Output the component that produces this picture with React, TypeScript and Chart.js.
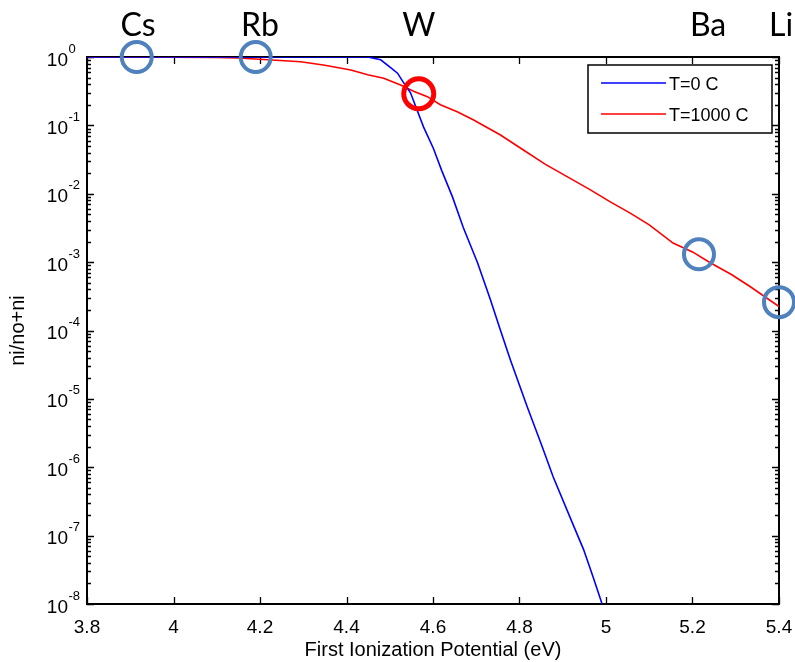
import { useEffect, useRef } from "react";
import { Chart, registerables } from "chart.js";

Chart.register(...registerables);

// ---- data ----
const seriesNames = ["T=0 C", "T=1000 C"];

const t0X = [3.8, 4.0, 4.2, 4.4, 4.449, 4.479, 4.502, 4.518, 4.53, 4.548, 4.578, 4.601, 4.62, 4.645, 4.67, 4.703, 4.733, 4.755, 4.779, 4.818, 4.85, 4.878, 4.922, 4.948, 4.97, 4.991, 5.0];
const t0Y = [1, 1, 1, 1, 1, 0.91, 0.7, 0.58, 0.44, 0.3, 0.095, 0.046, 0.022, 0.009, 0.0032, 9.8e-4, 2.8e-4, 1.05e-4, 3.7e-5, 7.6e-6, 2.2e-6, 7.2e-7, 1.55e-7, 6.3e-8, 2.5e-8, 1.0e-8, 7e-9];

const t1000X = [3.8, 4.0, 4.1, 4.15, 4.218, 4.294, 4.35, 4.41, 4.449, 4.486, 4.525, 4.555, 4.587, 4.617, 4.656, 4.694, 4.756, 4.809, 4.86, 4.91, 4.963, 5.01, 5.056, 5.1, 5.155, 5.2, 5.241, 5.29, 5.333, 5.4];
const t1000Y = [1, 0.993, 0.982, 0.966, 0.912, 0.851, 0.759, 0.646, 0.55, 0.49, 0.389, 0.316, 0.263, 0.2, 0.158, 0.12, 0.0724, 0.0437, 0.0269, 0.0178, 0.0115, 0.0076, 0.0052, 0.0035, 0.0019, 0.00141, 9.8e-4, 6.6e-4, 4.4e-4, 2.24e-4];

const elementNames = ["Cs", "Rb", "W", "Ba", "Li"];
const elementX = [3.915, 4.19, 4.567, 5.215, 5.4];
const elementY = [1, 1, 0.29, 1.3e-3, 2.6e-4];
const elementLabelX = [3.918, 4.2, 4.567, 5.236, 5.405];
const highlightedElement = "W";

const xTicks = [3.8, 4.0, 4.2, 4.4, 4.6, 4.8, 5.0, 5.2, 5.4];
const xTickLabels = ["3.8", "4", "4.2", "4.4", "4.6", "4.8", "5", "5.2", "5.4"];
const yTickExponents = [0, -1, -2, -3, -4, -5, -6, -7, -8];

const xTitle = "First Ionization Potential (eV)";
const yTitle = "ni/no+ni";

const FONT = "'Liberation Sans', Arial, sans-serif";
const BLUE_MARK = "#4F81BD";
const RED_MARK = "#FF0000";

const matlabPlugin = {
  id: "matlabAxes",
  beforeDatasetsDraw(chart: any) {
    const { ctx, chartArea: a, scales } = chart;
    const x = scales.x;
    const y = scales.y;
    ctx.save();
    ctx.strokeStyle = "#000";
    ctx.lineWidth = 1.3;
    ctx.beginPath();
    for (const v of xTicks) {
      const px = Math.round(x.getPixelForValue(v)) + 0.5;
      ctx.moveTo(px, a.bottom);
      ctx.lineTo(px, a.bottom - 7);
      ctx.moveTo(px, a.top);
      ctx.lineTo(px, a.top + 7);
    }
    for (const e of yTickExponents) {
      const py = Math.round(y.getPixelForValue(Math.pow(10, e))) + 0.5;
      ctx.moveTo(a.left, py);
      ctx.lineTo(a.left + 7, py);
      ctx.moveTo(a.right, py);
      ctx.lineTo(a.right - 7, py);
      if (e > yTickExponents[yTickExponents.length - 1]) {
        for (let k = 2; k <= 9; k++) {
          const pm = Math.round(y.getPixelForValue(k * Math.pow(10, e - 1))) + 0.5;
          ctx.moveTo(a.left, pm);
          ctx.lineTo(a.left + 4, pm);
          ctx.moveTo(a.right, pm);
          ctx.lineTo(a.right - 4, pm);
        }
      }
    }
    ctx.stroke();
    ctx.lineWidth = 2;
    ctx.strokeRect(a.left, a.top, a.right - a.left, a.bottom - a.top);

    // y tick labels with superscripts
    ctx.fillStyle = "#000";
    ctx.textBaseline = "alphabetic";
    for (const e of yTickExponents) {
      const py = y.getPixelForValue(Math.pow(10, e));
      ctx.font = `19px ${FONT}`;
      ctx.textAlign = "right";
      ctx.fillText("10", a.left - 19, py + 8.5);
      ctx.font = `13px ${FONT}`;
      ctx.textAlign = "left";
      ctx.fillText(String(e), a.left - 18.5, py - 4.5);
    }
    ctx.restore();
  },
  afterDraw(chart: any) {
    const { ctx, scales } = chart;
    const x = scales.x;
    ctx.save();
    // element labels
    ctx.fillStyle = "#000";
    ctx.font = `32px Lato, 'Open Sans', sans-serif`;
    ctx.textAlign = "center";
    ctx.textBaseline = "alphabetic";
    elementNames.forEach((n, i) => {
      ctx.fillText(n, x.getPixelForValue(elementLabelX[i]), 36);
    });
    // legend
    const lx = 588, ly = 65, lw = 184, lh = 68;
    ctx.fillStyle = "#fff";
    ctx.fillRect(lx, ly, lw, lh);
    ctx.strokeStyle = "#000";
    ctx.lineWidth = 1.5;
    ctx.strokeRect(lx, ly, lw, lh);
    const colors = ["#0000FF", "#FF0000"];
    const rows = [83, 114];
    seriesNames.forEach((n, i) => {
      ctx.strokeStyle = colors[i];
      ctx.lineWidth = 1.5;
      ctx.beginPath();
      ctx.moveTo(601, rows[i]);
      ctx.lineTo(666, rows[i]);
      ctx.stroke();
      ctx.fillStyle = "#000";
      ctx.font = `18px ${FONT}`;
      ctx.textAlign = "left";
      ctx.textBaseline = "middle";
      ctx.fillText(n, 669, rows[i] + 2);
    });
    ctx.restore();
  },
};

export default function App() {
  const ref = useRef<HTMLCanvasElement | null>(null);
  useEffect(() => {
    if (!ref.current) return;
    const markColors = elementNames.map((n) => (n === highlightedElement ? RED_MARK : BLUE_MARK));
    const markWidths = elementNames.map((n) => (n === highlightedElement ? 5 : 4));
    const chart = new Chart(ref.current, {
      type: "line",
      data: {
        datasets: [
          {
            label: "elements",
            data: elementX.map((v, i) => ({ x: v, y: elementY[i] })),
            showLine: false,
            pointRadius: 15,
            pointHoverRadius: 15,
            pointBorderWidth: markWidths,
            pointBorderColor: markColors,
            pointBackgroundColor: "rgba(0,0,0,0)",
            clip: false as any,
            order: 0,
          },
          {
            label: seriesNames[0],
            data: t0X.map((v, i) => ({ x: v, y: t0Y[i] })),
            borderColor: "#0000FF",
            borderWidth: 1.6,
            pointRadius: 0,
            tension: 0,
            order: 1,
          },
          {
            label: seriesNames[1],
            data: t1000X.map((v, i) => ({ x: v, y: t1000Y[i] })),
            borderColor: "#FF0000",
            borderWidth: 1.6,
            pointRadius: 0,
            tension: 0,
            order: 2,
          },
        ],
      },
      options: {
        animation: false,
        responsive: false,
        events: [],
        layout: { autoPadding: false, padding: { left: 0, right: 16, top: 57, bottom: 0 } },
        plugins: { legend: { display: false }, tooltip: { enabled: false } },
        scales: {
          x: {
            type: "linear",
            min: 3.8,
            max: 5.4,
            grid: { display: false, drawTicks: false },
            border: { display: false },
            afterBuildTicks: (s: any) => {
              s.ticks = xTicks.map((v) => ({ value: v }));
            },
            afterFit: (s: any) => {
              s.height = 58;
              s.paddingLeft = 0;
              s.paddingRight = 0;
            },
            ticks: {
              color: "#000",
              font: { family: FONT, size: 19 },
              padding: 12,
              maxRotation: 0,
              autoSkip: false,
              callback: (_v: any, i: number) => xTickLabels[i],
            },
            title: {
              display: true,
              text: xTitle,
              color: "#000",
              font: { family: FONT, size: 20 },
              padding: { top: 0, bottom: 0 },
            },
          },
          y: {
            type: "logarithmic",
            min: 1e-8,
            max: 1,
            grid: { display: false, drawTicks: false },
            border: { display: false },
            ticks: { display: false },
            afterFit: (s: any) => {
              s.width = 87;
              s.paddingTop = 0;
              s.paddingBottom = 0;
            },
            title: {
              display: true,
              text: yTitle,
              color: "#000",
              font: { family: FONT, size: 20 },
              padding: { top: 6, bottom: 0 },
            },
          },
        },
      },
      plugins: [matlabPlugin],
    });
    return () => chart.destroy();
  }, []);
  return (
    <div style={{ position: "absolute", left: 0, top: 0, width: 795, height: 662, background: "#fff" }}>
      <canvas ref={ref} width={795} height={662} style={{ width: 795, height: 662 }} />
    </div>
  );
}
